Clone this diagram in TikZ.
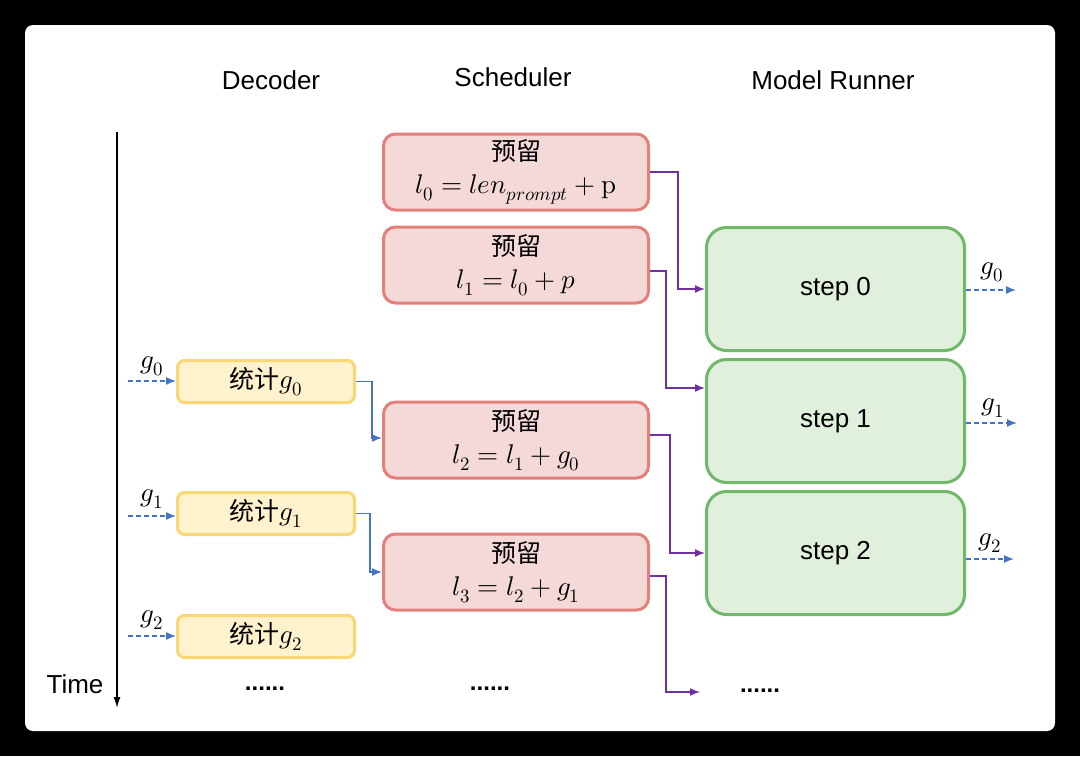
\documentclass[tikz,border=0pt]{standalone}
\usepackage{fontspec}
\usepackage{unicode-math}
\setmathfont{Latin Modern Math}
\setmainfont{Liberation Sans}
\newfontfamily\cjk{Noto Sans CJK SC}
\usetikzlibrary{arrows.meta,calc}
\definecolor{redb}{HTML}{E3807A}
\definecolor{redf}{HTML}{F4D9D8}
\definecolor{yelb}{HTML}{F8D774}
\definecolor{yelf}{HTML}{FFF2CC}
\definecolor{grnb}{HTML}{72B86A}
\definecolor{grnf}{HTML}{E0F0DD}
\definecolor{purp}{HTML}{7030A0}
\definecolor{blu}{HTML}{4472C4}
\newcommand\mth[1]{{\fontsize{27}{33}\selectfont$#1$}}
\begin{document}
\begin{tikzpicture}[x=1pt,y=-1pt,
  hdr/.style={font=\fontsize{26}{30}\selectfont, inner sep=0pt},
  sched/.style={draw=redb, fill=redf, line width=3pt, rounded corners=12pt,
    minimum width=265pt, minimum height=76pt, inner sep=0pt, align=center,
    font=\fontsize{25}{33}\selectfont},
  dec/.style={draw=yelb, fill=yelf, line width=3pt, rounded corners=7pt,
    minimum width=177pt, minimum height=42pt, inner sep=0pt,
    font=\fontsize{25}{28}\selectfont},
  runner/.style={draw=grnb, fill=grnf, line width=3pt, rounded corners=20pt,
    minimum width=258pt, minimum height=123pt, inner sep=0pt,
    font=\fontsize{26}{30}\selectfont},
  pconn/.style={draw=purp, line width=1.5pt, -{Latex[length=10pt,width=8pt]}},
  bconn/.style={draw=blu, line width=1.5pt, -{Latex[length=10pt,width=8pt]}},
  dconn/.style={draw=blu, line width=1.5pt, dash pattern=on 5pt off 3pt, -{Latex[length=10pt,width=8pt]}},
  glbl/.style={inner sep=0pt},
  dots/.style={font=\fontsize{24}{28}\selectfont\bfseries, inner sep=0pt},
]
\fill[black] (0,0) rectangle (1080,756);
\fill[white, rounded corners=8pt] (25,25) rectangle (1055,731);

% headers
\node[hdr] (hdec) at (271,80) {Decoder};
\node[hdr] (hsch) at (513,77) {Scheduler};
\node[hdr] (hrun) at (833,80) {Model Runner};

% time axis
\coordinate (t0) at (117,132);
\coordinate (t1) at (117,708);
\draw[line width=1.5pt, -{Latex[length=11pt,width=7pt]}] (t0) -- (t1);
\node[hdr] (time) at (75,684) {Time};

% scheduler boxes
\node[sched] (r0) at (516,172) {{\cjk 预留}\\\mth{l_0=len_{prompt}+\symup{p}}};
\node[sched] (r1) at (516,265) {{\cjk 预留}\\\mth{l_1=l_0+p}};
\node[sched] (r2) at (516,440) {{\cjk 预留}\\\mth{l_2=l_1+g_0}};
\node[sched] (r3) at (516,572) {{\cjk 预留}\\\mth{l_3=l_2+g_1}};

% decoder boxes
\node[dec] (y0) at (266,381.5) {{\cjk 统计}\mth{g_0}};
\node[dec] (y1) at (266,513.5) {{\cjk 统计}\mth{g_1}};
\node[dec] (y2) at (266,636.5) {{\cjk 统计}\mth{g_2}};

% runner boxes
\node[runner] (s0) at (835.5,289) {step 0};
\node[runner] (s1) at (835.5,421) {step 1};
\node[runner] (s2) at (835.5,553) {step 2};

% dots
\node[dots] (d0) at (265,689) {......};
\node[dots] (d1) at (490,689) {......};
\node[dots] (d2) at (760,691) {......};
\coordinate (d2in) at (700,692);

% purple connectors
\draw[pconn] (r0.east) -- ++(28,0) |- (s0.west);
\draw[pconn] ([yshift=-6pt]r1.east) -- ++(16,0) |- ([yshift=33pt]s1.west);
\draw[pconn] ([yshift=5pt]r2.east) -- ++(20,0) |- (s2.west);
\draw[pconn] ([yshift=-4pt]r3.east) -- ++(16,0) |- (d2in);

% blue connectors
\draw[bconn] (y0.east) -- ++(16,0) |- ([yshift=2pt]r2.west);
\draw[bconn] (y1.east) -- ++(14,0) |- (r3.west);

% input dashed arrows
\coordinate (i0) at (128,381);
\coordinate (i1) at (128,516);
\coordinate (i2) at (128,636);
\draw[dconn] (i0) -- (i0 -| y0.west);
\draw[dconn] (i1) -- (i1 -| y1.west);
\draw[dconn] (i2) -- (i2 -| y2.west);
\node[glbl] (gi0) at (152,366) {\mth{g_0}};
\node[glbl] (gi1) at (152,499) {\mth{g_1}};
\node[glbl] (gi2) at (152,620) {\mth{g_2}};

% output dashed arrows
\coordinate (o0) at (1016,290);
\coordinate (o1) at (1017,423);
\coordinate (o2) at (1014,559);
\draw[dconn] (o0 -| s0.east) -- (o0);
\draw[dconn] (o1 -| s1.east) -- (o1);
\draw[dconn] (o2 -| s2.east) -- (o2);
\node[glbl] (go0) at (992,272) {\mth{g_0}};
\node[glbl] (go1) at (993,408) {\mth{g_1}};
\node[glbl] (go2) at (990,543) {\mth{g_2}};
\end{tikzpicture}
\end{document}
